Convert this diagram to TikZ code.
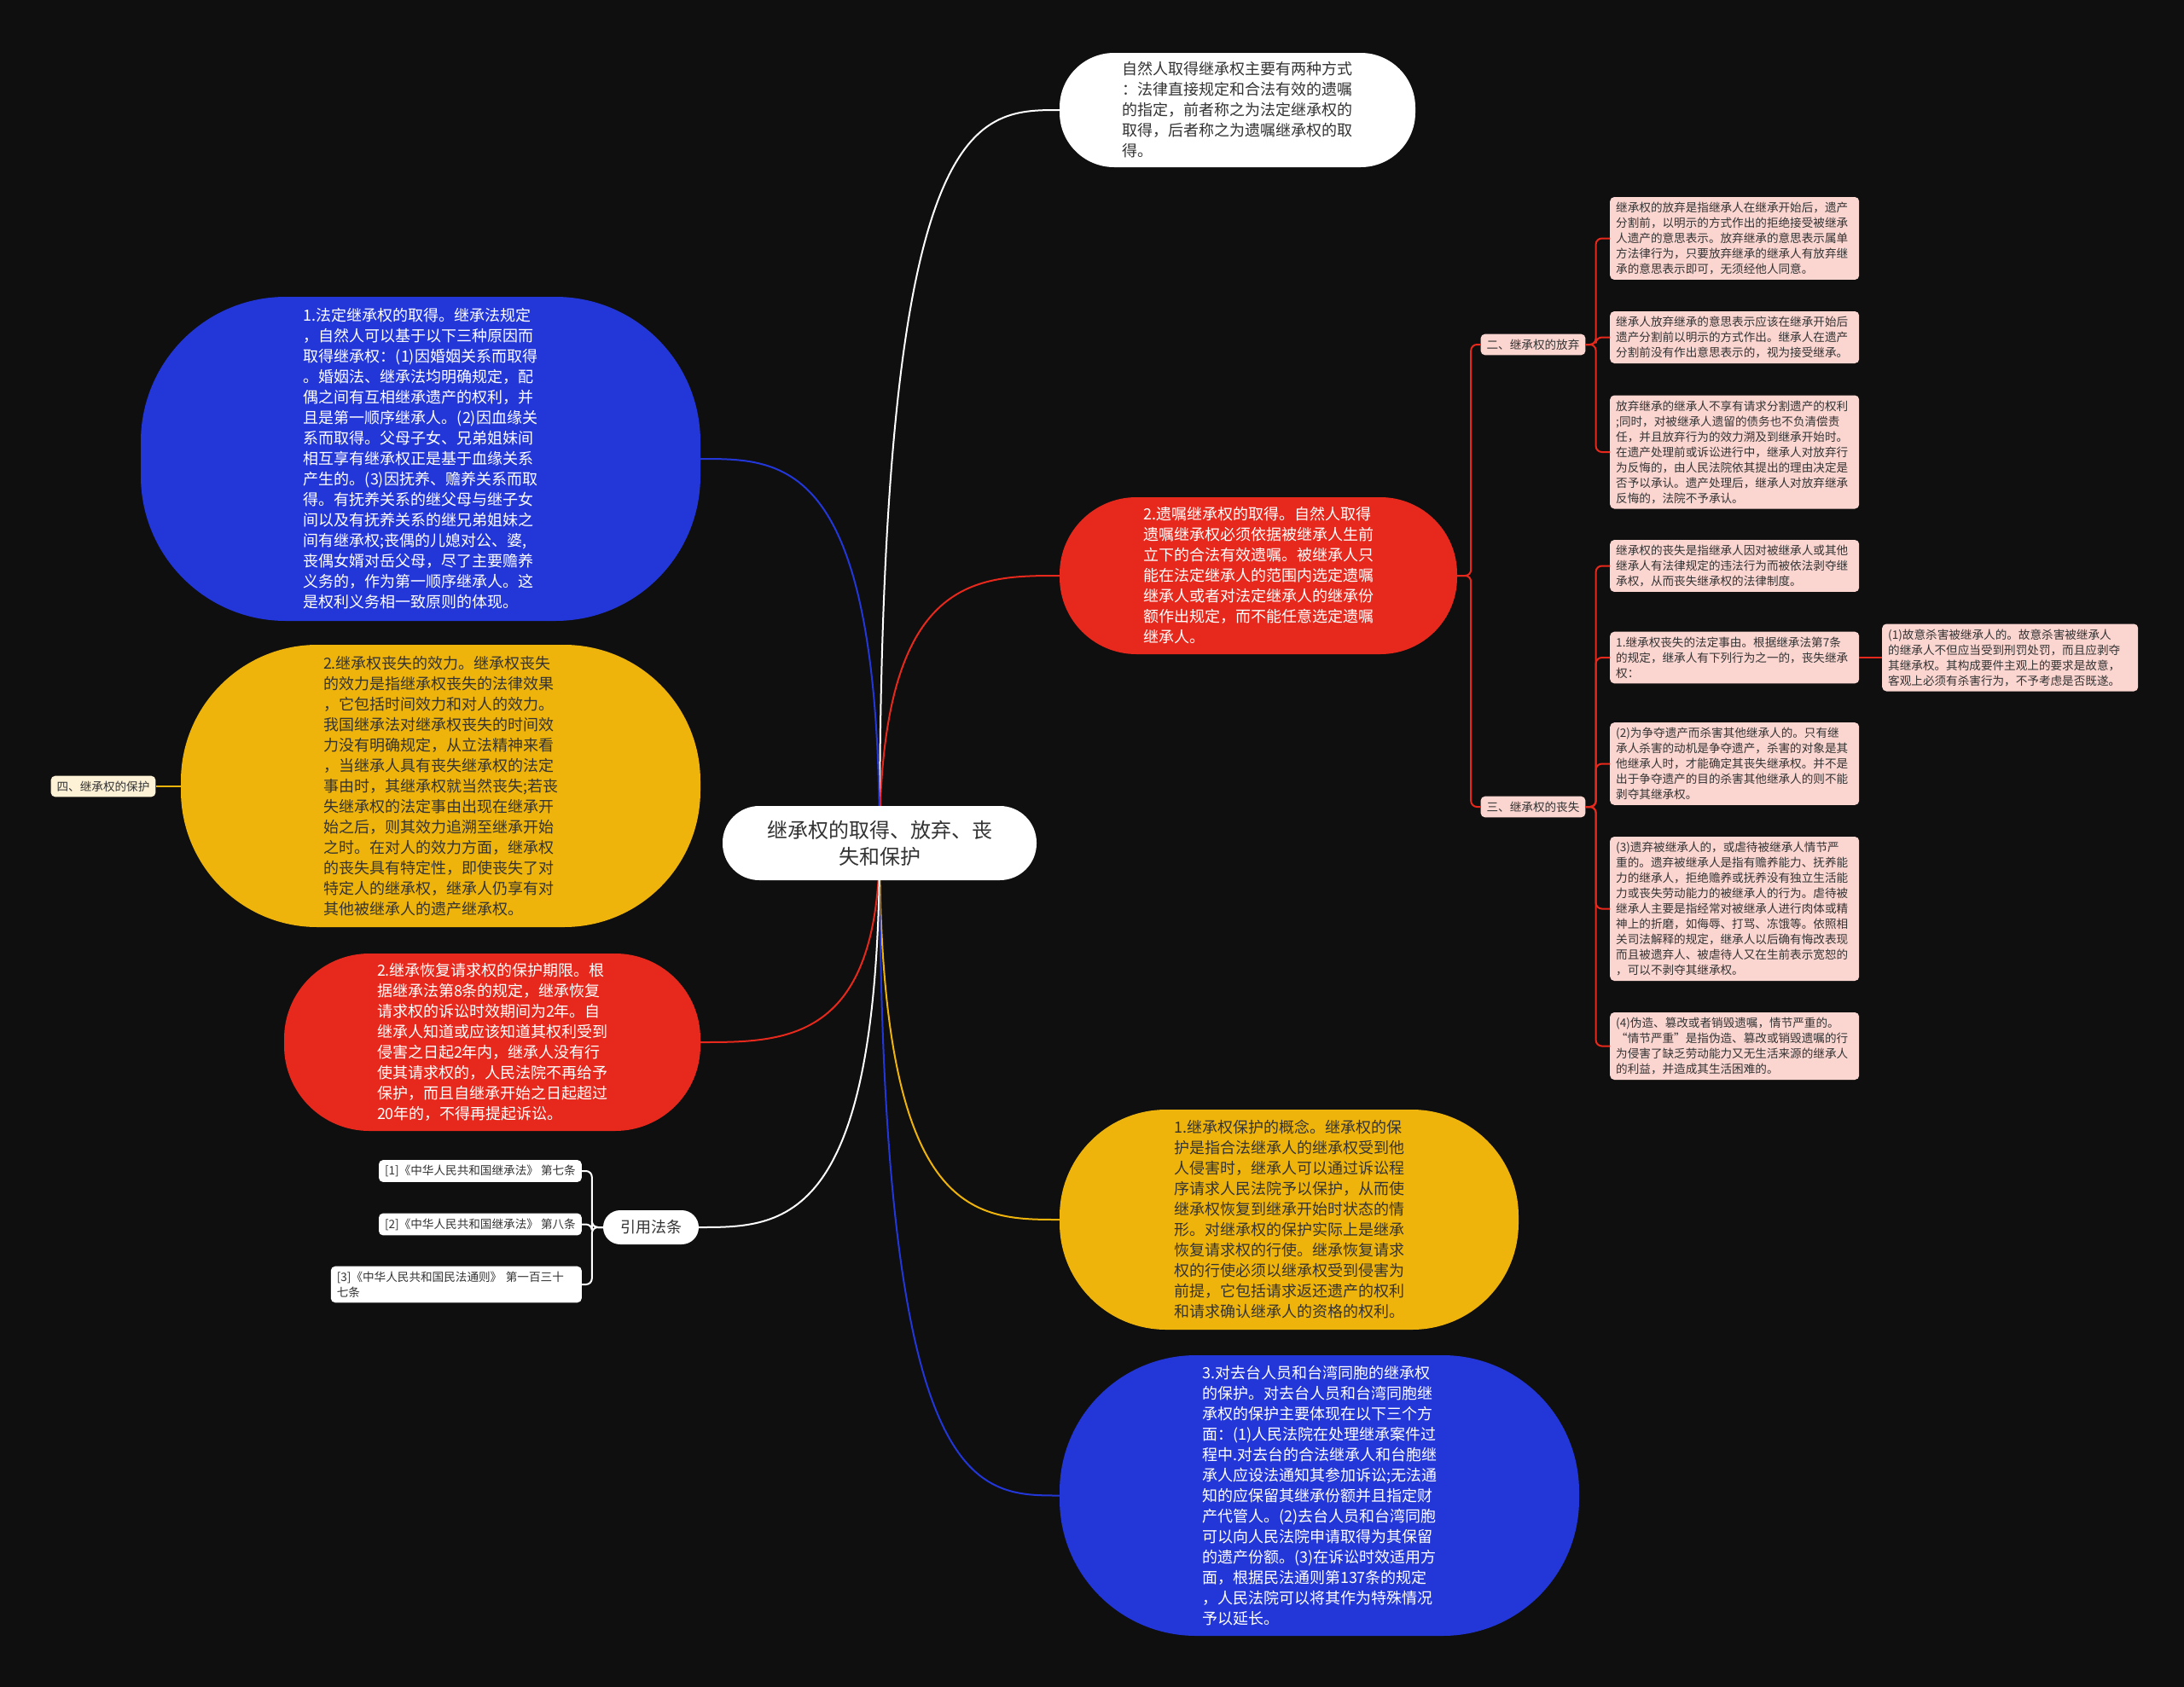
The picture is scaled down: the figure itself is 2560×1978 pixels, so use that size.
\documentclass[tikz,border=0pt]{standalone}
\usepackage{fontspec}
\setmainfont{Noto Sans CJK SC}
\usetikzlibrary{calc,backgrounds}
\definecolor{bgc}{HTML}{0F0F0F}
\definecolor{cblue}{HTML}{2337D8}
\definecolor{cred}{HTML}{E6291C}
\definecolor{cyel}{HTML}{EFB40C}
\definecolor{cpink}{HTML}{FBD6D1}
\definecolor{ccream}{HTML}{FDF2D6}
\definecolor{ctxt}{HTML}{333333}
\newcommand\fbig{\fontsize{18}{24}\selectfont}
\newcommand\fsml{\fontsize{13.6}{18}\selectfont}
\newcommand\fctr{\fontsize{24}{31}\selectfont}
\newcommand\fmid{\fontsize{18}{22}\selectfont}
\begin{document}
\begin{tikzpicture}[x=1pt,y=-1pt,
  bubble/.style={inner sep=0pt, align=left, font=\fbig},
  pinkbox/.style={fill=cpink, rounded corners=5pt, text=ctxt, font=\fsml, align=left, inner xsep=7pt, inner ysep=6pt, text width=278pt, anchor=west},
  lbl/.style={fill=cpink, rounded corners=5pt, text=ctxt, font=\fsml, inner xsep=7pt, inner ysep=6pt},
  refbox/.style={fill=white, rounded corners=5pt, text=ctxt, font=\fsml, align=left, inner xsep=7pt, inner ysep=6pt, anchor=east},
  conn/.style={line width=2pt},
  brk/.style={line width=2pt, rounded corners=7pt},
]
\useasboundingbox (0,0) rectangle (2560,1978);
\begin{scope}[on background layer]
\fill[bgc] (0,0) rectangle (2560,1978);
\end{scope}

% central node
\node[fill=white, rounded corners=43pt, minimum width=368pt, minimum height=87pt, align=center, font=\fctr, text=ctxt, inner sep=0pt] (ctr) at (1031,988.5) {继承权的取得、放弃、丧\\失和保护};

% top white
\node[bubble, fill=white, text=ctxt, rounded corners=64pt, minimum width=417pt, minimum height=134pt] (top) at (1450.5,129) {自然人取得继承权主要有两种方式\\：法律直接规定和合法有效的遗嘱\\的指定，前者称之为法定继承权的\\取得，后者称之为遗嘱继承权的取\\得。};

% left blue
\node[bubble, fill=cblue, text=white, rounded corners=170pt, minimum width=656pt, minimum height=380pt] (lb) at (493,538) {1.法定继承权的取得。继承法规定\\，自然人可以基于以下三种原因而\\取得继承权：(1)因婚姻关系而取得\\。婚姻法、继承法均明确规定，配\\偶之间有互相继承遗产的权利，并\\且是第一顺序继承人。(2)因血缘关\\系而取得。父母子女、兄弟姐妹间\\相互享有继承权正是基于血缘关系\\产生的。(3)因抚养、赡养关系而取\\得。有抚养关系的继父母与继子女\\间以及有抚养关系的继兄弟姐妹之\\间有继承权;丧偶的儿媳对公、婆,\\丧偶女婿对岳父母，尽了主要赡养\\义务的，作为第一顺序继承人。这\\是权利义务相一致原则的体现。};

% left yellow
\node[bubble, fill=cyel, text=ctxt, rounded corners=160pt, minimum width=609pt, minimum height=331pt] (ly) at (516.5,921.5) {2.继承权丧失的效力。继承权丧失\\的效力是指继承权丧失的法律效果\\，它包括时间效力和对人的效力。\\我国继承法对继承权丧失的时间效\\力没有明确规定，从立法精神来看\\，当继承人具有丧失继承权的法定\\事由时，其继承权就当然丧失;若丧\\失继承权的法定事由出现在继承开\\始之后，则其效力追溯至继承开始\\之时。在对人的效力方面，继承权\\的丧失具有特定性，即使丧失了对\\特定人的继承权，继承人仍享有对\\其他被继承人的遗产继承权。};

% label four
\node[fill=ccream, rounded corners=5pt, text=ctxt, font=\fsml, inner xsep=7pt, inner ysep=6pt] (l4) at (121,922) {四、继承权的保护};

% left red
\node[bubble, fill=cred, text=white, rounded corners=100pt, minimum width=488pt, minimum height=208pt] (lr) at (577,1222) {2.继承恢复请求权的保护期限。根\\据继承法第8条的规定，继承恢复\\请求权的诉讼时效期间为2年。自\\继承人知道或应该知道其权利受到\\侵害之日起2年内，继承人没有行\\使其请求权的，人民法院不再给予\\保护，而且自继承开始之日起超过\\20年的，不得再提起诉讼。};

% cited law
\node[fill=white, rounded corners=20pt, minimum width=112pt, minimum height=40pt, font=\fmid, text=ctxt, inner sep=0pt] (yy) at (763,1439) {引用法条};
\node[refbox] (r1) at (682,1373) {[1]《中华人民共和国继承法》 第七条};
\node[refbox] (r2) at (682,1435.5) {[2]《中华人民共和国继承法》 第八条};
\node[refbox, text width=280pt] (r3) at (682,1506) {[3]《中华人民共和国民法通则》 第一百三十\\七条};

% right red
\node[bubble, fill=cred, text=white, rounded corners=90pt, minimum width=466pt, minimum height=184pt] (rr) at (1475,675) {2.遗嘱继承权的取得。自然人取得\\遗嘱继承权必须依据被继承人生前\\立下的合法有效遗嘱。被继承人只\\能在法定继承人的范围内选定遗嘱\\继承人或者对法定继承人的继承份\\额作出规定，而不能任意选定遗嘱\\继承人。};

% right yellow
\node[bubble, fill=cyel, text=ctxt, rounded corners=125pt, minimum width=538pt, minimum height=258pt] (ry) at (1511,1430) {1.继承权保护的概念。继承权的保\\护是指合法继承人的继承权受到他\\人侵害时，继承人可以通过诉讼程\\序请求人民法院予以保护，从而使\\继承权恢复到继承开始时状态的情\\形。对继承权的保护实际上是继承\\恢复请求权的行使。继承恢复请求\\权的行使必须以继承权受到侵害为\\前提，它包括请求返还遗产的权利\\和请求确认继承人的资格的权利。};

% right blue
\node[bubble, fill=cblue, text=white, rounded corners=160pt, minimum width=609pt, minimum height=329pt] (rb) at (1546.5,1753.5) {3.对去台人员和台湾同胞的继承权\\的保护。对去台人员和台湾同胞继\\承权的保护主要体现在以下三个方\\面：(1)人民法院在处理继承案件过\\程中.对去台的合法继承人和台胞继\\承人应设法通知其参加诉讼;无法通\\知的应保留其继承份额并且指定财\\产代管人。(2)去台人员和台湾同胞\\可以向人民法院申请取得为其保留\\的遗产份额。(3)在诉讼时效适用方\\面，根据民法通则第137条的规定\\，人民法院可以将其作为特殊情况\\予以延长。};

% labels two / three
\node[lbl] (l2) at (1797,404) {二、继承权的放弃};
\node[lbl] (l3) at (1797,946) {三、继承权的丧失};

% pink boxes
\node[pinkbox] (pa) at (1887,279.5) {继承权的放弃是指继承人在继承开始后，遗产\\分割前，以明示的方式作出的拒绝接受被继承\\人遗产的意思表示。放弃继承的意思表示属单\\方法律行为，只要放弃继承的继承人有放弃继\\承的意思表示即可，无须经他人同意。};
\node[pinkbox] (pb) at (1887,395.5) {继承人放弃继承的意思表示应该在继承开始后\\遗产分割前以明示的方式作出。继承人在遗产\\分割前没有作出意思表示的，视为接受继承。};
\node[pinkbox] (pc) at (1887,530) {放弃继承的继承人不享有请求分割遗产的权利\\;同时，对被继承人遗留的债务也不负清偿责\\任，并且放弃行为的效力溯及到继承开始时。\\在遗产处理前或诉讼进行中，继承人对放弃行\\为反悔的，由人民法院依其提出的理由决定是\\否予以承认。遗产处理后，继承人对放弃继承\\反悔的，法院不予承认。};
\node[pinkbox] (pd) at (1887,663.5) {继承权的丧失是指继承人因对被继承人或其他\\继承人有法律规定的违法行为而被依法剥夺继\\承权，从而丧失继承权的法律制度。};
\node[pinkbox] (pe) at (1887,771) {1.继承权丧失的法定事由。根据继承法第7条\\的规定，继承人有下列行为之一的，丧失继承\\权：};
\node[pinkbox] (pf) at (1887,895.5) {(2)为争夺遗产而杀害其他继承人的。只有继\\承人杀害的动机是争夺遗产，杀害的对象是其\\他继承人时，才能确定其丧失继承权。并不是\\出于争夺遗产的目的杀害其他继承人的则不能\\剥夺其继承权。};
\node[pinkbox] (pg) at (1887,1065.5) {(3)遗弃被继承人的，或虐待被继承人情节严\\重的。遗弃被继承人是指有赡养能力、抚养能\\力的继承人，拒绝赡养或抚养没有独立生活能\\力或丧失劳动能力的被继承人的行为。虐待被\\继承人主要是指经常对被继承人进行肉体或精\\神上的折磨，如侮辱、打骂、冻饿等。依照相\\关司法解释的规定，继承人以后确有悔改表现\\而且被遗弃人、被虐待人又在生前表示宽恕的\\，可以不剥夺其继承权。};
\node[pinkbox] (ph) at (1887,1226.5) {(4)伪造、篡改或者销毁遗嘱，情节严重的。\\ “情节严重”是指伪造、篡改或销毁遗嘱的行\\为侵害了缺乏劳动能力又无生活来源的继承人\\的利益，并造成其生活困难的。};
\node[pinkbox, text width=286pt] (pi) at (2206,771) {(1)故意杀害被继承人的。故意杀害被继承人\\的继承人不但应当受到刑罚处罚，而且应剥夺\\其继承权。其构成要件主观上的要求是故意，\\客观上必须有杀害行为，不予考虑是否既遂。};

% connectors
\begin{scope}[on background layer]
\draw[conn, white] (ctr.center) .. controls (ctr.center |- top.west) and ($(top.west)+(-100,0)$) .. (top.west);
\draw[conn, cred] (ctr.center) .. controls (ctr.center |- rr.west) and ($(rr.west)+(-100,0)$) .. (rr.west);
\draw[conn, cyel] (ctr.center) .. controls (ctr.center |- ry.west) and ($(ry.west)+(-100,0)$) .. (ry.west);
\draw[conn, cblue] (ctr.center) .. controls (ctr.center |- rb.west) and ($(rb.west)+(-100,0)$) .. (rb.west);
\draw[conn, cblue] (ctr.center) .. controls (ctr.center |- lb.east) and ($(lb.east)+(100,0)$) .. (lb.east);
\draw[conn, cred] (ctr.center) .. controls (ctr.center |- lr.east) and ($(lr.east)+(100,0)$) .. (lr.east);
\draw[conn, white] (ctr.center) .. controls (ctr.center |- yy.east) and ($(yy.east)+(100,0)$) .. (yy.east);
\end{scope}
\draw[conn, cyel] (ly.west) -- (ly.west -| l4.east);
\draw[brk, white] (yy.west) -- ++(-13,0) |- (r1.east);
\draw[brk, white] (yy.west) -- ++(-13,0) |- (r2.east);
\draw[brk, white] (yy.west) -- ++(-13,0) |- (r3.east);
\draw[brk, cred] (rr.east) -- ++(16,0) |- (l2.west);
\draw[brk, cred] (rr.east) -- ++(16,0) |- (l3.west);
\foreach \c in {pa,pb,pc} {\draw[brk, cred] (l2.east) -- ++(12,0) |- (\c.west);}
\foreach \c in {pd,pe,pf,pg,ph} {\draw[brk, cred] (l3.east) -- ++(12,0) |- (\c.west);}
\draw[conn, cred] (pe.east) -- (pi.west);
\end{tikzpicture}
\end{document}
